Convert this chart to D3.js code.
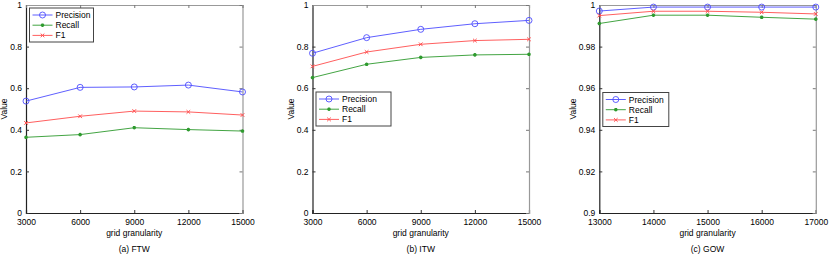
<!DOCTYPE html>
<html>
<head>
<meta charset="utf-8">
<script src="https://cdn.jsdelivr.net/npm/d3@7"></script>
<style>
  body { margin: 0; background: #fff; }
  svg { display: block; font-family: 'Liberation Sans', Arial, sans-serif; }
</style>
</head>
<body>
<svg id="chart" width="830" height="254"></svg>
<script>
// x values per panel
const gridA = [3000, 6000, 9000, 12000, 15000];
const gridB = [3000, 6000, 9000, 12000, 15000];
const gridC = [13000, 14000, 15000, 16000, 17000];

// (a) FTW
const precisionA = [0.538, 0.604, 0.606, 0.615, 0.582];
const recallA = [0.364, 0.377, 0.410, 0.401, 0.394];
const f1A = [0.433, 0.465, 0.490, 0.486, 0.471];

// (b) ITW
const precisionB = [0.768, 0.843, 0.883, 0.910, 0.926];
const recallB = [0.651, 0.715, 0.748, 0.760, 0.763];
const f1B = [0.705, 0.774, 0.811, 0.829, 0.835];

// (c) GOW
const precisionC = [0.9971, 0.9990, 0.9990, 0.9990, 0.9990];
const recallC = [0.9911, 0.9951, 0.9951, 0.9941, 0.9932];
const f1C = [0.9949, 0.9970, 0.9970, 0.9965, 0.9957];

const yTicksAB = [0, 0.2, 0.4, 0.6, 0.8, 1];
const yTicksC = [0.9, 0.92, 0.94, 0.96, 0.98, 1];
const captions = ['(a) FTW', '(b) ITW', '(c) GOW'];
const seriesNames = ['Precision', 'Recall', 'F1'];

const colors = { Precision: '#4d4dff', Recall: '#2e9a2e', F1: '#ff4d4d' };

const panels = [
  { left: 26, grid: gridA, vals: [precisionA, recallA, f1A], yDomain: [0, 1], yTicks: yTicksAB, ylabX: -22, legend: { x: 3.5, y: 3, w: 64 } },
  { left: 312.5, grid: gridB, vals: [precisionB, recallB, f1B], yDomain: [0, 1], yTicks: yTicksAB, ylabX: -21, legend: { x: 3.5, y: 87, w: 75 } },
  { left: 599.3, grid: gridC, vals: [precisionC, recallC, f1C], yDomain: [0.9, 1], yTicks: yTicksC, ylabX: -26, legend: { x: 3.5, y: 87.5, w: 66 } },
];

const W = 216.5, H = 208, TOP = 5;
const FS = '8.5px';
const svg = d3.select('#chart');

function drawMarker(g, name, x, y, color) {
  if (name === 'Precision') {
    g.append('circle').attr('cx', x).attr('cy', y).attr('r', 3)
      .attr('fill', 'none').attr('stroke', color).attr('stroke-width', 0.9);
  } else if (name === 'Recall') {
    const s = 1.8;
    g.append('path')
      .attr('d', `M${x - s},${y}H${x + s}M${x},${y - s}V${y + s}M${x - s * 0.7},${y - s * 0.7}L${x + s * 0.7},${y + s * 0.7}M${x - s * 0.7},${y + s * 0.7}L${x + s * 0.7},${y - s * 0.7}`)
      .attr('stroke', color).attr('stroke-width', 1.1);
  } else {
    const s = 1.8;
    g.append('path')
      .attr('d', `M${x - s},${y - s}L${x + s},${y + s}M${x - s},${y + s}L${x + s},${y - s}`)
      .attr('stroke', color).attr('stroke-width', 1);
  }
}

panels.forEach((p, i) => {
  const g = svg.append('g').attr('transform', `translate(${p.left},${TOP})`);
  const x = d3.scaleLinear().domain(d3.extent(p.grid)).range([0, W]);
  const y = d3.scaleLinear().domain(p.yDomain).range([H, 0]);
  const fmt = (v) => `${+v.toFixed(2)}`;

  // bottom and left axes with inward ticks
  const xa = g.append('g').attr('transform', `translate(0,${H})`)
    .call(d3.axisBottom(x).tickValues(p.grid).tickSize(-3).tickPadding(6).tickFormat(d3.format('d')));
  const ya = g.append('g')
    .call(d3.axisLeft(y).tickValues(p.yTicks).tickSize(-3).tickPadding(4).tickFormat(fmt));
  // top and right mirrored ticks
  const xt = g.append('g').call(d3.axisTop(x).tickValues(p.grid).tickSize(-3).tickFormat(''));
  const yr = g.append('g').attr('transform', `translate(${W},0)`)
    .call(d3.axisRight(y).tickValues(p.yTicks).tickSize(-3).tickFormat(''));

  [xa, ya].forEach((a) => {
    a.select('.domain').attr('stroke', '#222');
    a.selectAll('.tick line').attr('stroke', '#333');
    a.selectAll('text').style('font-size', FS).attr('fill', '#000');
  });
  [xt, yr].forEach((a) => {
    a.select('.domain').attr('stroke', '#999');
    a.selectAll('.tick line').attr('stroke', '#777');
  });
  g.selectAll('.domain').attr('stroke-width', 1.2);

  // series
  p.vals.forEach((vals, k) => {
    const name = seriesNames[k];
    const pts = p.grid.map((gv, j) => [x(gv), y(vals[j])]);
    g.append('path').attr('d', d3.line()(pts)).attr('fill', 'none')
      .attr('stroke', colors[name]).attr('stroke-width', 0.9);
    pts.forEach(([px, py]) => drawMarker(g, name, px, py, colors[name]));
  });

  // legend
  const lg = g.append('g').attr('transform', `translate(${p.legend.x},${p.legend.y})`);
  lg.append('rect').attr('width', p.legend.w).attr('height', 34)
    .attr('fill', '#fff').attr('stroke', '#444').attr('stroke-width', 1);
  seriesNames.forEach((name, k) => {
    const ly = 7 + k * 10.2;
    lg.append('line').attr('x1', 3).attr('x2', 23).attr('y1', ly).attr('y2', ly)
      .attr('stroke', colors[name]).attr('stroke-width', 0.9);
    drawMarker(lg, name, 13, ly, colors[name]);
    lg.append('text').attr('x', 26).attr('y', ly + 3).style('font-size', FS).text(name);
  });

  // labels
  g.append('text').attr('x', W / 2).attr('y', H + 23).attr('text-anchor', 'middle')
    .style('font-size', FS).text('grid granularity');
  g.append('text').attr('transform', `translate(${p.ylabX},${H / 2}) rotate(-90)`)
    .attr('text-anchor', 'middle').attr('dy', '0.35em').style('font-size', FS).text('Value');
  g.append('text').attr('x', W / 2).attr('y', H + 39).attr('text-anchor', 'middle')
    .style('font-size', FS).text(captions[i]);
});
</script>
</body>
</html>
